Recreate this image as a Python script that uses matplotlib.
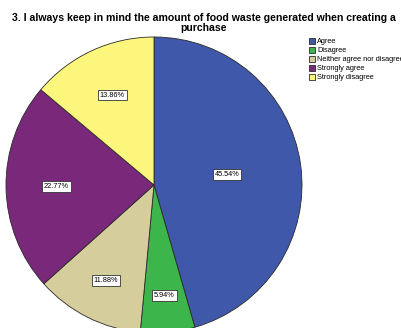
import numpy as np
import matplotlib
matplotlib.use("Agg")
import matplotlib.pyplot as plt

# response shares for question 3, clockwise from 12 o'clock
categories = ["Agree", "Disagree", "Neither agree nor disagree",
              "Strongly agree", "Strongly disagree"]
percent = [45.54, 5.94, 11.88, 22.77, 13.86]
colors = ["#3F58AA", "#3CB54A", "#D6CD9C", "#7A287A", "#FCF77C"]
# radial position of each percentage box (fraction of radius)
label_r = [0.5, 0.75, 0.72, 0.66, 0.67]

TITLE = ("3. I always keep in mind the amount of food waste generated "
         "when creating a\npurchase")

plt.rcParams["font.family"] = ["Liberation Sans", "DejaVu Sans"]

fig = plt.figure(figsize=(4.01, 3.28), dpi=100)
ax = fig.add_axes([6 / 401, -5 / 328, 296 / 401, 296 / 328])

wedges, _ = ax.pie(
    percent,
    colors=colors,
    startangle=90,
    counterclock=False,
    wedgeprops=dict(edgecolor="#2a2a2a", linewidth=0.6),
)
ax.set_xlim(-1, 1)
ax.set_ylim(-1, 1)
ax.set_aspect("equal")
ax.axis("off")

for w, p, r in zip(wedges, percent, label_r):
    mid = np.deg2rad((w.theta1 + w.theta2) / 2)
    ax.text(r * np.cos(mid), r * np.sin(mid), "{:.2f}%".format(p),
            ha="center", va="center", fontsize=5.3,
            bbox=dict(boxstyle="square,pad=0.25", fc="white",
                      ec="#333333", lw=0.6))

fig.text(204 / 401, 1 - 13 / 328, TITLE, ha="center", va="top",
         fontsize=7.6, fontweight="bold", linespacing=1.05)

fig.legend(wedges, categories, loc="upper left",
           bbox_to_anchor=(309 / 401, 1 - 38 / 328),
           frameon=False, fontsize=5.3, handlelength=0.85, handleheight=0.85,
           labelspacing=0.2, handletextpad=0.25, borderpad=0.0,
           borderaxespad=0)

fig.savefig("out.png", dpi=100)
